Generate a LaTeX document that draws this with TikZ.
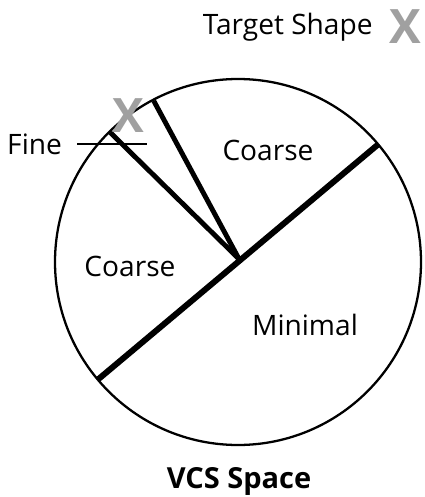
\documentclass[tikz,border=0pt]{standalone}
\usepackage{fontspec}
\setmainfont{Open Sans}
\usepackage{tikz}
\usetikzlibrary{calc,positioning}
\definecolor{tgtgray}{RGB}{160,160,160}

\begin{document}
\begin{tikzpicture}[x=.02cm,y=-.02cm,font=\fontsize{16}{19}\selectfont]
        \useasboundingbox (0,0) rectangle (424,497);
        \coordinate (c) at (238,262);
        \coordinate (hub) at (239,259);
        \draw[line width=1.3pt] (c) circle[radius=183];
        % partition boundaries (y axis points down, so angles are negated)
        \draw[line width=3.4pt] ($(c)+(-40:183)$) -- ($(c)+(140:183)$);
        \draw[line width=2.8pt] (hub) -- ($(c)+(-134.6:182)$) coordinate (fineend);
        \draw[line width=2.8pt] (hub) -- ($(c)+(-117.6:182)$);
        % region labels
        \node (cu) at (268,150) {Coarse};
        \node (cl) at (130,266) {Coarse};
        \node (mn) at (305,325) {Minimal};
        \node[font=\fontsize{16.5}{19}\selectfont\bfseries] (vcs) at (239,481) {VCS Space};
        % fine region
        \node[anchor=east,inner sep=1pt] (fine) at (64,144) {Fine};
        \coordinate (fineout) at (147,144);
        \draw[line width=.9pt] (fine.east) ++(13,0) -- (fineout);
        \node[tgtgray,font=\fontsize{27}{27}\selectfont\bfseries] (xf) at (128,116) {X};
        % legend
        \node[anchor=east,inner sep=0pt] (leg) at (373,27) {Target Shape};
        \node[tgtgray,font=\fontsize{27}{27}\selectfont\bfseries] (xl) at (405,27) {X};
      \end{tikzpicture}
\end{document}
